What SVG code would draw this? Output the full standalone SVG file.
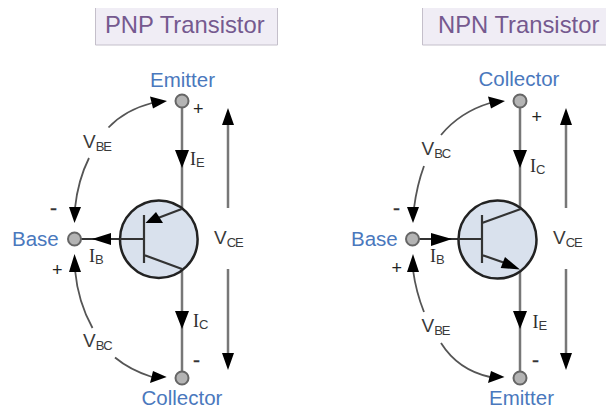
<svg xmlns="http://www.w3.org/2000/svg" width="606" height="409" viewBox="0 0 606 409">
<style>
text{font-family:"Liberation Sans",Arial,sans-serif}
.title{font-size:23.800px;fill:#75598f}
.tbox{fill:#f0edf5;stroke:none}
.tedge{fill:none;stroke:#c4bfca;stroke-width:1}
.term{font-size:20.500px;fill:#4a78bd}
.lab{font-size:19px;fill:#3a3a3a}
.sub{font-family:"Liberation Sans",Arial,sans-serif;font-size:13px;letter-spacing:-1px;fill:#3a3a3a}
.serif{font-family:"Liberation Serif",serif;font-size:18px;fill:#2c2c2c}
.sign{font-size:18px;fill:#222}
.minus{font-size:21px;fill:#333;stroke:#333;stroke-width:.4}
.node{fill:#b4b4b4;stroke:#666;stroke-width:2}
.body{fill:#d9e1ed;stroke:#222;stroke-width:2.500}
.wire{fill:none;stroke:#777;stroke-width:2.500}
.dark{fill:none;stroke:#333;stroke-width:2.200}
.curve{fill:none;stroke:#555;stroke-width:1.800}
.head{fill:#000;stroke:none}
</style>
<g id="title-pnp"><rect class="tbox" x="95.500" y="8" width="182" height="37"/><path class="tedge" d="M95.500 8V45H277.500V8"/><text class="title" x="105" y="33">PNP Transistor</text></g>
<g id="title-npn"><rect class="tbox" x="422.500" y="8" width="184" height="37"/><path class="tedge" d="M422.500 8V45H606"/><text class="title" x="438" y="33">NPN Transistor</text></g>
<g id="connectors">
<path class="wire" d="M182 107V209M182 269V372"/>
<path class="wire" d="M228 125V208M228 269V354"/>
<path class="dark" d="M81 239H144"/>
<path class="curve" d="M108.500 127.500Q125 110 152 103M89 158Q78 180 75 208M75 270Q78 302 92.500 328M115 357.500Q130 370 152 377"/>
<path class="head" d="M167 101L150 96.500L153 108.500ZM182 168L175 150H189ZM228 108L222 125H234ZM228 370L222 353H234ZM74.500 223L69 207H81ZM92 239L111 233V245ZM74.500 254L69 272H81ZM182 329L175 311H189ZM166.700 377L153 371L150 383Z"/>
<path class="wire" d="M520 107V209M520 269V372"/>
<path class="wire" d="M566 125V208M566 269V354"/>
<path class="dark" d="M419 239H482"/>
<path class="curve" d="M441 135Q460 112 490 103M424 166Q417 185 414 208M413 270Q416 292 424 312M441 343Q458 370 490 377"/>
<path class="head" d="M505 101L488 96.500L491 108.500ZM520 168L513 150H527ZM566 108L560 125H572ZM566 370L560 353H572ZM413 223L407 207H419ZM452 239L431 233V246ZM413 254L407 272H419ZM520 329L513 311H527ZM504.500 377L491 371L488 383Z"/>
</g>
<g id="pnp-transistor">
<circle class="body" cx="158.800" cy="239.300" r="38.800"/>
<path class="dark" d="M144 215V263M144 239H120M144 255L182 269M181.700 209L158 218"/>
<path class="head" d="M145.500 223L156 212L163 223Z"/>
</g>
<g id="npn-transistor">
<circle class="body" cx="497.500" cy="239.500" r="39"/>
<path class="dark" d="M482 215V263M482 239H458M482 223L520.700 209M482 255L505 263"/>
<path class="head" d="M520 269.500L505 257L500.700 268Z"/>
</g>
<g id="pnp-emitter"><circle class="node" cx="182" cy="101" r="6.500"/><text class="term" x="182.500" y="87" text-anchor="middle">Emitter</text></g>
<g id="pnp-base"><circle class="node" cx="74.500" cy="239" r="6.500"/><text class="term" x="12" y="246">Base</text></g>
<g id="pnp-collector"><circle class="node" cx="182" cy="378" r="6.500"/><text class="term" x="182" y="405" text-anchor="middle">Collector</text></g>
<g id="npn-collector"><circle class="node" cx="520" cy="101" r="6.500"/><text class="term" x="519" y="86" text-anchor="middle">Collector</text></g>
<g id="npn-base"><circle class="node" cx="412.500" cy="239" r="6.500"/><text class="term" x="351" y="246">Base</text></g>
<g id="npn-emitter"><circle class="node" cx="520" cy="378" r="6.500"/><text class="term" x="521.500" y="405" text-anchor="middle">Emitter</text></g>
<g id="pnp-labels">
<text class="lab" x="83" y="148">V<tspan class="sub" dy="2.500">BE</tspan></text>
<text class="lab" x="83" y="347">V<tspan class="sub" dy="2.500">BC</tspan></text>
<text class="lab" x="214" y="244">V<tspan class="sub" dy="2.500">CE</tspan></text>
<text class="serif" x="190" y="165">I<tspan class="sub" dy="2">E</tspan></text>
<text class="serif" x="193" y="327">I<tspan class="sub" dy="2">C</tspan></text>
<text class="serif" x="89" y="262">I<tspan class="sub" dy="2">B</tspan></text>
<text class="sign" x="193" y="114.500">+</text>
<text class="minus" x="193" y="367">-</text>
<text class="minus" x="50" y="215">-</text>
<text class="sign" x="52" y="276">+</text>
</g>
<g id="npn-labels">
<text class="lab" x="421.500" y="155">V<tspan class="sub" dy="2.500">BC</tspan></text>
<text class="lab" x="421.500" y="332">V<tspan class="sub" dy="2.500">BE</tspan></text>
<text class="lab" x="553" y="244">V<tspan class="sub" dy="2.500">CE</tspan></text>
<text class="serif" x="530" y="172">I<tspan class="sub" dy="2">C</tspan></text>
<text class="serif" x="532.500" y="328">I<tspan class="sub" dy="2">E</tspan></text>
<text class="serif" x="430" y="262">I<tspan class="sub" dy="2">B</tspan></text>
<text class="sign" x="531.500" y="123">+</text>
<text class="minus" x="532" y="367">-</text>
<text class="minus" x="393" y="215">-</text>
<text class="sign" x="391.500" y="274">+</text>
</g>
</svg>
